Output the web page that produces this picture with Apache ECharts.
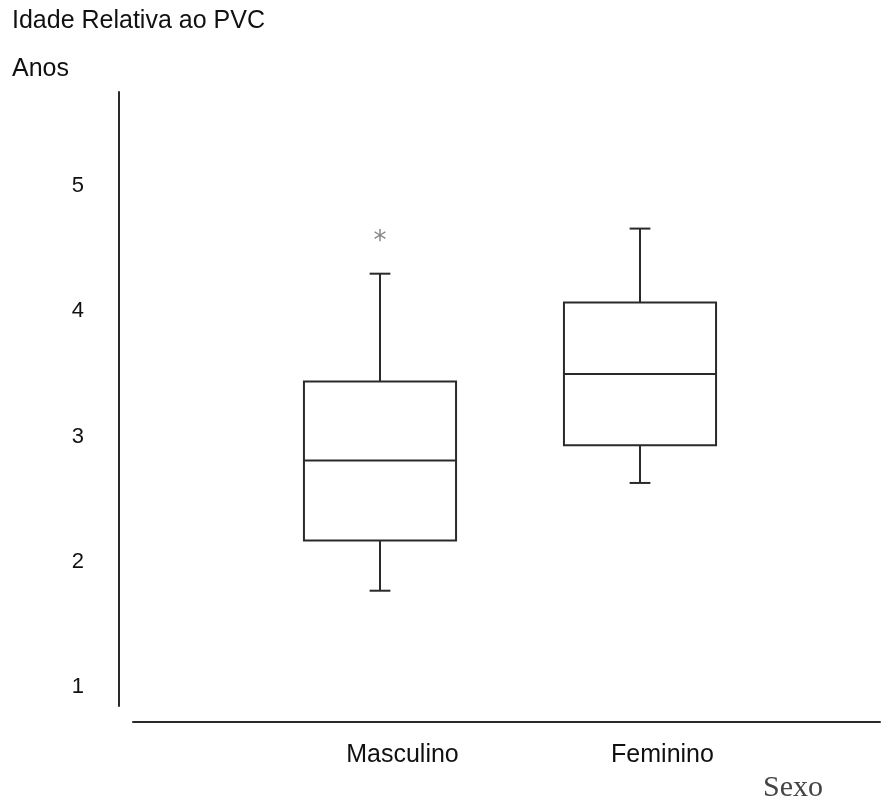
<!DOCTYPE html>
<html>
<head>
<meta charset="utf-8">
<script src="https://cdn.jsdelivr.net/npm/echarts@6/dist/echarts.min.js"></script>
<style>html,body{margin:0;padding:0;background:#fff;}#c{width:893px;height:805px;}</style>
</head>
<body>
<div id="c"></div>
<script>
const categories = ['Masculino', 'Feminino'];
const whiskerLow = [1.77, 2.63];
const q1 = [2.17, 2.93];
const median = [2.81, 3.50];
const q3 = [3.44, 4.07];
const whiskerHigh = [4.30, 4.66];
const outlierCategory = ['Masculino'];
const outlierValue = [4.60];

const boxData = categories.map((c, i) => [i, whiskerLow[i], q1[i], median[i], q3[i], whiskerHigh[i]]);
const outlierData = outlierCategory.map((c, i) => [categories.indexOf(c), outlierValue[i]]);

const lineColor = '#2a2a2a';
const sansFont = '"Liberation Sans", Arial, sans-serif';

const chart = echarts.init(document.getElementById('c'), null, {renderer: 'canvas'});
chart.setOption({
  animation: false,
  backgroundColor: '#ffffff',
  title: [
    {text: 'Idade Relativa ao PVC', left: 7, top: 4, textStyle: {fontFamily: sansFont, fontSize: 25, fontWeight: 'normal', color: '#111'}},
    {text: 'Anos', left: 7, top: 52, textStyle: {fontFamily: sansFont, fontSize: 25, fontWeight: 'normal', color: '#111'}},
    {text: 'Sexo', left: 758, top: 768, textStyle: {fontFamily: '"Liberation Serif", "DejaVu Serif", serif', fontSize: 30, fontWeight: 'normal', color: '#444'}}
  ],
  grid: [
    {left: 250, right: 123, top: 92, bottom: 99},
    {left: 133, right: 13, top: 92, bottom: 99}
  ],
  xAxis: [
    {
      type: 'category', gridIndex: 0, data: categories, boundaryGap: true,
      axisLine: {show: false}, axisTick: {show: false}, splitLine: {show: false},
      axisLabel: {margin: 37, fontFamily: sansFont, fontSize: 25, color: '#111', padding: [0, 0, 0, 45]}
    },
    {
      type: 'value', gridIndex: 1, min: 0, max: 1, offset: 16,
      axisLine: {show: true, onZero: false, lineStyle: {color: lineColor, width: 2}},
      axisTick: {show: false}, axisLabel: {show: false}, splitLine: {show: false}
    }
  ],
  yAxis: [
    {
      type: 'value', gridIndex: 0, min: 0.85, max: 5.75, offset: 131,
      axisLine: {show: true, onZero: false, lineStyle: {color: lineColor, width: 2}},
      axisTick: {show: false}, splitLine: {show: false},
      axisLabel: {
        margin: 35, fontFamily: sansFont, fontSize: 22, color: '#111',
        formatter: v => (Math.abs(v - Math.round(v)) < 1e-6 ? String(Math.round(v)) : '')
      }
    },
    {
      type: 'value', gridIndex: 1, min: 0, max: 1, show: false
    }
  ],
  series: [
    {
      type: 'custom',
      xAxisIndex: 0, yAxisIndex: 0,
      data: boxData,
      renderItem: function (params, api) {
        const idx = api.value(0);
        const x = api.coord([idx, api.value(3)])[0];
        const yLow = api.coord([idx, api.value(1)])[1];
        const yQ1 = api.coord([idx, api.value(2)])[1];
        const yMed = api.coord([idx, api.value(3)])[1];
        const yQ3 = api.coord([idx, api.value(4)])[1];
        const yHigh = api.coord([idx, api.value(5)])[1];
        const bandW = api.size([1, 0])[0];
        const halfW = bandW * 0.2925;
        const capHalf = bandW * 0.04;
        const st = {stroke: lineColor, lineWidth: 2, fill: null};
        return {
          type: 'group',
          children: [
            {type: 'rect', shape: {x: x - halfW, y: yQ3, width: 2 * halfW, height: yQ1 - yQ3}, style: {stroke: lineColor, lineWidth: 2, fill: '#fff'}},
            {type: 'line', shape: {x1: x - halfW, y1: yMed, x2: x + halfW, y2: yMed}, style: st},
            {type: 'line', shape: {x1: x, y1: yQ3, x2: x, y2: yHigh}, style: st},
            {type: 'line', shape: {x1: x - capHalf, y1: yHigh, x2: x + capHalf, y2: yHigh}, style: st},
            {type: 'line', shape: {x1: x, y1: yQ1, x2: x, y2: yLow}, style: st},
            {type: 'line', shape: {x1: x - capHalf, y1: yLow, x2: x + capHalf, y2: yLow}, style: st}
          ]
        };
      }
    },
    {
      type: 'scatter',
      xAxisIndex: 0, yAxisIndex: 0,
      data: outlierData,
      symbolSize: 1,
      itemStyle: {color: 'rgba(0,0,0,0)'},
      label: {
        show: true, position: 'inside', formatter: '*',
        fontFamily: '"DejaVu Sans", sans-serif', fontSize: 26, color: '#666', offset: [0, 6]
      }
    }
  ]
});
</script>
</body>
</html>
